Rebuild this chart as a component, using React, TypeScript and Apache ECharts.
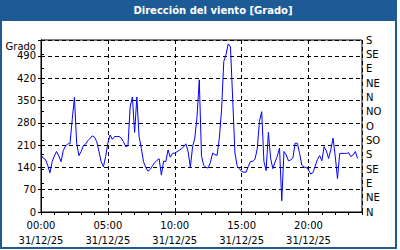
import React, { useEffect, useRef } from 'react';
import * as echarts from 'echarts';

const chartTitle = 'Dirección del viento [Grado]';
const yAxisName = 'Grado';
const dateLabel = '31/12/25';
const stepMinutes = 10;
const timeLabels = ['00:00', '05:00', '10:00', '15:00', '20:00'];
const compassLabels = ['N', 'NE', 'E', 'SE', 'S', 'SO', 'O', 'NO', 'N', 'NE', 'E', 'SE', 'S'];

// Wind direction [degrees], one value every 10 minutes from 00:00
const windDirection = [
  179, 169, 165, 147, 123, 158, 176, 190, 176, 158,
  193, 207, 214, 214, 290, 360, 216, 177, 190, 208,
  213, 224, 231, 239, 235, 221, 190, 158, 142, 174,
  216, 242, 228, 237, 237, 237, 232, 221, 205, 208,
  330, 361, 250, 361, 237, 200, 158, 140, 128, 134,
  145, 155, 162, 167, 116, 160, 158, 195, 172, 184,
  185, 189, 194, 198, 205, 214, 190, 140, 205, 232,
  300, 415, 175, 147, 140, 138, 156, 185, 180, 178,
  232, 321, 473, 494, 528, 518, 353, 185, 145, 136,
  127, 125, 125, 143, 159, 159, 166, 198, 285, 315,
  159, 130, 250, 169, 136, 157, 175, 201, 35, 190,
  179, 161, 163, 170, 216, 216, 184, 147, 141, 140,
  132, 119, 124, 144, 165, 177, 161, 205, 192, 168,
  195, 232, 175, 105, 184, 184, 184, 184, 186, 174,
  179, 190, 168,
];

const BLUE = '#1e5b96';
const FONT = 'DejaVu Sans';

export default function App() {
  const ref = useRef<HTMLDivElement>(null);
  useEffect(() => {
    if (!ref.current) return;
    const chart = echarts.init(ref.current, null, { renderer: 'svg' });
    const data = windDirection.map((v, i) => [i * stepMinutes, v]);
    chart.setOption({
      animation: false,
      textStyle: { fontFamily: FONT },
      graphic: [
        {
          type: 'rect', z: -10, silent: true,
          shape: { x: 1, y: 1, width: 395, height: 247 },
          style: { fill: '#ffffff', stroke: BLUE, lineWidth: 2 },
        },
        {
          type: 'rect', z: -9, silent: true,
          shape: { x: 0, y: 0, width: 397, height: 21 },
          style: { fill: BLUE },
        },
        {
          type: 'text', silent: true, x: 213, y: 10,
          style: {
            text: chartTitle, fill: '#ffffff', font: `bold 10px "${FONT}"`,
            textAlign: 'center', textVerticalAlign: 'middle',
          },
        },
        {
          type: 'text', silent: true, x: 36, y: 46,
          style: {
            text: yAxisName, fill: '#000000', font: `10px "${FONT}"`,
            textAlign: 'right', textVerticalAlign: 'middle',
          },
        },
      ],
      grid: {
        left: 41, top: 40, width: 321, height: 172,
        show: true, borderColor: '#000', borderWidth: 1, backgroundColor: 'transparent',
      },
      xAxis: [
        {
          type: 'value', min: 0, max: 1440, interval: 60,
          axisLine: { show: true, lineStyle: { color: '#000', width: 1 } },
          axisTick: { show: true, inside: false, length: 3, lineStyle: { color: '#000' } },
          axisLabel: { show: false },
          splitLine: { show: false },
        },
        {
          type: 'value', min: 0, max: 1440, interval: 300, position: 'bottom',
          axisLine: { show: false },
          axisTick: { show: false },
          splitLine: { show: true, lineStyle: { color: '#000', width: 1, type: [4, 3] } },
          axisLabel: {
            color: '#000', fontSize: 10, fontFamily: FONT, lineHeight: 15, margin: 6,
            formatter: (v: number) => {
              const idx = Math.round(v / 300);
              if (v % 300 !== 0 || idx >= timeLabels.length) return '';
              return timeLabels[idx] + '\n' + dateLabel;
            },
          },
        },
      ],
      yAxis: [
        {
          type: 'value', min: 0, max: 540, interval: 70, position: 'left',
          axisLine: { show: true, lineStyle: { color: '#000' } },
          axisTick: { show: true, length: 3, lineStyle: { color: '#000' } },
          splitLine: { show: true, lineStyle: { color: '#000', width: 1, type: [4, 3] } },
          axisLabel: {
            color: '#000', fontSize: 10, fontFamily: FONT, margin: 5,
            formatter: (v: number) => (v > 490 ? '' : String(v)),
          },
        },
        {
          type: 'value', min: 0, max: 540, interval: 45, position: 'right',
          axisLine: { show: true, lineStyle: { color: '#000' } },
          axisTick: { show: true, length: 3, lineStyle: { color: '#000' } },
          splitLine: { show: false },
          axisLabel: {
            color: '#000', fontSize: 10, fontFamily: FONT, margin: 4,
            formatter: (v: number) => compassLabels[Math.round(v / 45)] ?? '',
          },
        },
      ],
      series: [
        {
          type: 'line', xAxisIndex: 0, yAxisIndex: 0, data,
          showSymbol: false, symbol: 'none',
          lineStyle: { color: '#0000ff', width: 1 },
          itemStyle: { color: '#0000ff' },
        },
      ],
    });
    return () => chart.dispose();
  }, []);
  return (
    <div
      ref={ref}
      style={{ position: 'absolute', left: 0, top: 0, width: 400, height: 250 }}
    />
  );
}
